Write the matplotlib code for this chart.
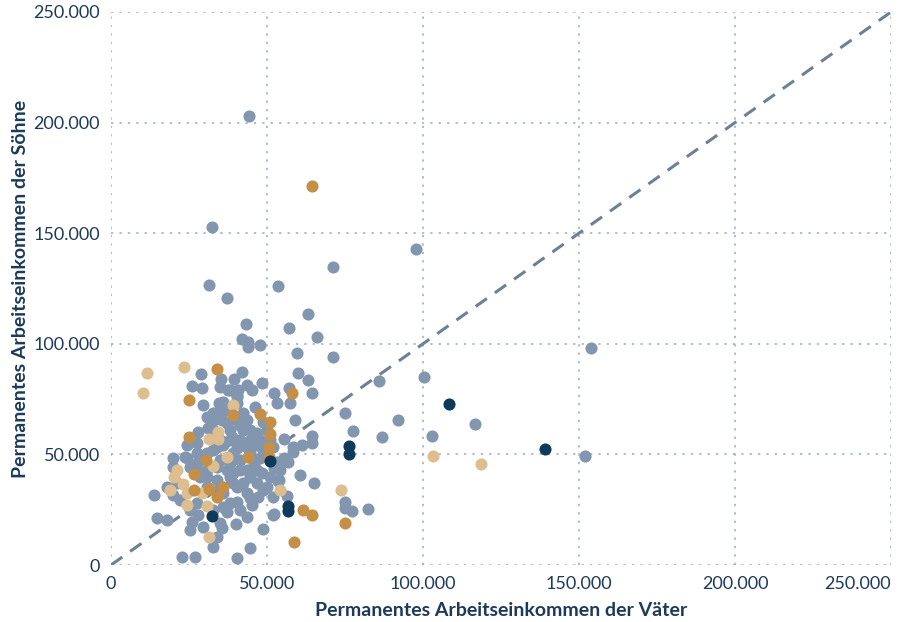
import numpy as np
import matplotlib
matplotlib.use("Agg")
import matplotlib.pyplot as plt
from matplotlib.ticker import FuncFormatter

plt.rcParams['font.family'] = ['Lato', 'DejaVu Sans']

# values in thousand euros
grey_x = [44.2, 32.4, 97.8, 71.2, 31.4, 53.5, 37.2, 63.1, 43.3, 57.1, 66.0, 42.0, 43.9, 43.9, 47.8,
          59.6, 71.2, 153.8, 59.9, 63.1, 64.4, 85.9, 100.3, 75.0, 92.0, 77.6, 86.9, 102.9, 116.7, 64.4,
          64.4, 61.2, 60.6, 65.1, 75.0, 75.0, 77.2, 82.4, 151.9, 52.2, 57.1, 53.2, 57.4, 59.0, 55.4,
          58.3, 55.4, 56.7, 52.2, 53.8, 56.4, 52.2, 42.0, 39.4, 48.4, 43.6, 45.2, 40.4, 40.4, 46.2,
          43.6, 41.3, 48.7, 50.0, 38.8, 44.6, 46.8, 58.3, 28.8, 35.3, 26.0, 29.2, 34.9, 37.5, 29.5,
          34.6, 37.2, 32.4, 35.6, 31.1, 27.9, 24.4, 27.6, 36.5, 34.0, 19.9, 24.4, 19.9, 27.6, 34.0,
          38.1, 41.3, 45.8, 48.4, 51.0, 53.5, 44.6, 38.1, 30.8, 21.2, 13.8, 19.9, 35.9, 40.4, 43.6,
          48.7, 47.1, 45.2, 38.1, 40.4, 35.9, 51.9, 14.7, 17.9, 26.0, 25.3, 29.5, 34.9, 35.6, 40.1,
          34.0, 32.7, 22.8, 26.9, 40.4, 44.6, 48.7, 32.7, 35.9, 40.4, 41.3, 38.1, 40.4, 42.3, 38.1,
          35.9, 40.7, 38.1, 40.4, 23.7, 25.3, 28.5, 30.8, 17.9, 22.1, 27.6, 32.7, 37.2, 25.3, 27.9,
          41.3, 43.6, 34.9, 39.1, 42.3, 46.8, 50.0, 51.9, 44.6, 34.0, 46.8, 43.6, 39.1, 37.2, 30.8,
          27.6, 34.9, 41.3, 47.8, 53.2, 54.2, 39.1, 44.6, 48.7, 27.6, 30.8, 34.9, 38.1, 32.7, 34.9,
          32.7, 30.8, 37.2, 42.3, 44.6, 46.8, 47.8, 51.0, 51.9, 43.6]
grey_y = [203.0, 152.8, 142.9, 134.7, 126.6, 126.1, 120.7, 113.5, 109.0, 107.1, 103.1, 102.2, 100.8, 98.6, 99.5,
          95.8, 94.0, 98.1, 86.8, 83.6, 77.8, 83.2, 85.0, 68.7, 65.6, 60.6, 57.9, 58.3, 63.7, 58.3,
          55.2, 54.2, 40.7, 37.1, 28.5, 25.8, 24.4, 25.3, 49.3, 77.8, 80.0, 73.2, 73.2, 65.6, 57.0,
          51.1, 48.4, 46.6, 43.9, 38.4, 31.2, 23.1, 87.3, 84.1, 82.3, 81.4, 79.1, 76.9, 73.2, 71.4,
          65.6, 63.3, 64.6, 61.0, 57.9, 56.5, 54.2, 53.3, 86.3, 84.1, 80.9, 80.0, 80.5, 79.1, 72.3,
          73.2, 70.1, 64.6, 65.6, 61.9, 60.1, 54.2, 55.2, 55.6, 53.3, 48.4, 48.4, 44.3, 46.1, 44.3,
          46.1, 42.9, 46.1, 41.6, 39.8, 38.0, 39.8, 39.8, 39.8, 37.1, 31.6, 31.6, 32.5, 35.3, 32.5,
          33.9, 30.7, 27.1, 28.0, 28.5, 26.2, 22.6, 21.2, 20.3, 19.4, 15.8, 17.2, 19.0, 16.7, 18.5,
          12.7, 8.1, 3.6, 3.6, 3.2, 7.7, 16.3, 52.0, 54.2, 52.9, 56.5, 61.0, 65.6, 68.7, 70.1,
          73.7, 79.1, 79.1, 75.9, 48.8, 44.3, 39.8, 35.3, 35.3, 29.4, 28.0, 24.9, 24.0, 24.9, 22.6,
          24.9, 21.7, 35.3, 37.1, 37.1, 37.1, 35.3, 30.7, 30.3, 38.4, 42.9, 42.9, 41.6, 42.9, 42.9,
          42.9, 47.5, 47.5, 48.4, 46.6, 42.9, 50.6, 50.6, 52.0, 50.6, 50.6, 56.5, 56.5, 61.0, 70.1,
          68.7, 66.9, 64.2, 61.0, 61.0, 59.7, 56.5, 56.5, 53.3, 53.3]

tan_x = [11.5, 10.3, 23.4, 103.2, 118.6, 73.7, 39.1, 34.3, 31.4, 34.3, 37.2, 32.7, 21.2, 20.2,
         18.9, 23.1, 24.4, 29.2, 24.4, 30.8, 31.4, 54.2]
tan_y = [86.8, 77.8, 89.5, 49.3, 45.7, 33.9, 72.3, 60.1, 57.0, 57.0, 48.8, 44.8, 42.9, 39.8,
         33.9, 36.6, 32.5, 32.5, 27.1, 26.7, 12.7, 33.9]

orange_x = [64.4, 34.0, 25.0, 25.0, 58.0, 39.1, 47.8, 51.0, 51.0, 50.6, 50.6, 43.9, 30.4, 26.6,
            26.6, 31.4, 34.0, 35.9, 61.5, 64.4, 58.7, 75.0]
orange_y = [171.3, 88.6, 74.6, 57.9, 77.8, 67.8, 68.3, 64.6, 59.2, 53.3, 48.8, 48.8, 47.5, 41.1,
            33.9, 34.4, 30.7, 35.3, 24.9, 22.6, 10.4, 19.0]

navy_x = [108.3, 139.1, 76.3, 76.3, 51.0, 56.7, 56.7, 32.4]
navy_y = [72.8, 52.4, 53.8, 50.2, 47.0, 26.7, 24.4, 22.2]

ticks = [0, 50000, 100000, 150000, 200000, 250000]

fig = plt.figure(figsize=(9.05, 6.22), dpi=100)
ax = fig.add_axes([111/905, 1-565/622, 780/905, 553/622])

ax.set_xlim(0, 250000)
ax.set_ylim(0, 250000)

ax.plot([0, 250000], [0, 250000], ls=(0, (4.5, 3.2)), color='#6c8096', lw=2.2, zorder=1)

s = 76
ax.scatter(np.array(grey_x)*1000, np.array(grey_y)*1000, s=s, color='#8297af', lw=0, zorder=2)
ax.scatter(np.array(tan_x)*1000, np.array(tan_y)*1000, s=s, color='#dcbe91', lw=0, zorder=3)
ax.scatter(np.array(orange_x)*1000, np.array(orange_y)*1000, s=s, color='#c68f48', lw=0, zorder=4)
ax.scatter(np.array(navy_x)*1000, np.array(navy_y)*1000, s=s, color='#0e3a5c', lw=0, zorder=5)

ax.set_xticks(ticks)
ax.set_yticks(ticks)
fmt = FuncFormatter(lambda v, p: f"{int(v):,}".replace(",", "."))
ax.xaxis.set_major_formatter(fmt)
ax.yaxis.set_major_formatter(fmt)
ax.tick_params(length=0, labelsize=13, labelcolor='#1e3a5a')
ax.tick_params(axis='x', pad=8)
ax.tick_params(axis='y', pad=8)
for sp in ax.spines.values():
    sp.set_visible(False)
ax.grid(True, ls=(0, (1.5, 4)), color='#9aabbe', lw=1.1)
ax.set_axisbelow(True)

xl = ax.get_xticklabels()
xl[-1].set_horizontalalignment('right')

ax.set_xlabel('Permanentes Arbeitseinkommen der Väter', fontsize=14, fontweight='bold',
              color='#1e3a5a', labelpad=7)
ax.set_ylabel('Permanentes Arbeitseinkommen der Söhne', fontsize=14, fontweight='bold',
              color='#1e3a5a', labelpad=3)

for c in ax.collections:
    c.set_clip_on(False)

fig.savefig('out.png', dpi=100)
